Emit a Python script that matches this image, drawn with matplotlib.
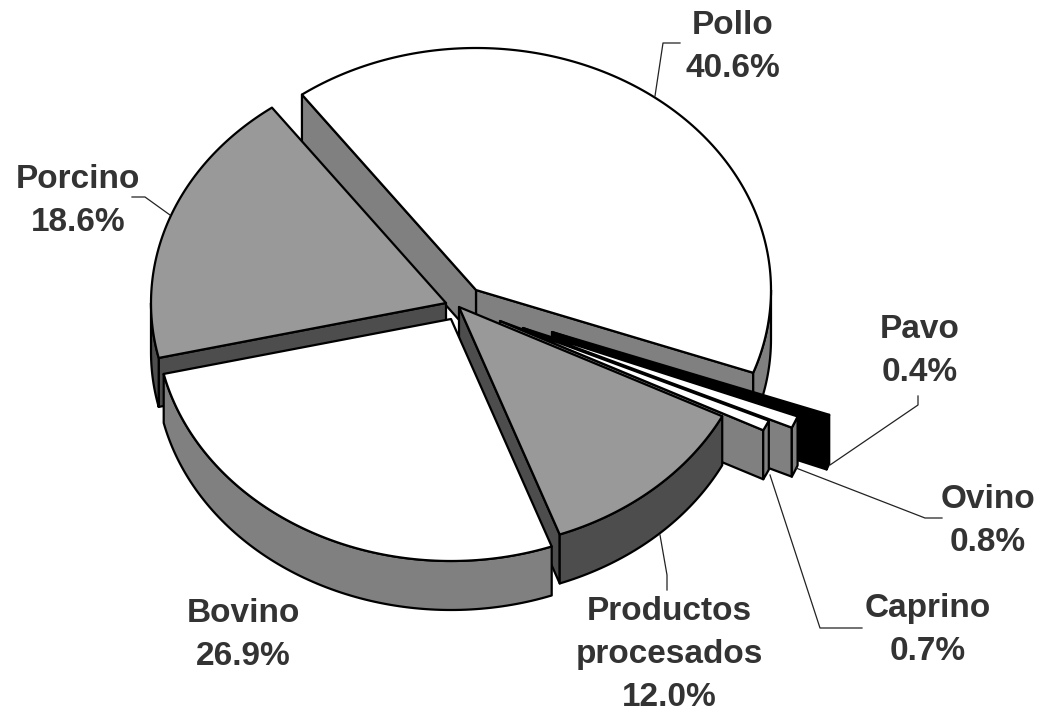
import numpy as np
import matplotlib
matplotlib.use('Agg')
import matplotlib.pyplot as plt
from matplotlib.patches import Polygon

# valores del grafico, en el orden en que van alrededor del pastel
nombres = ['Pollo', 'Porcino', 'Bovino', 'Productos\nprocesados', 'Caprino', 'Ovino', 'Pavo']
valores = [40.6, 18.6, 26.9, 12.0, 0.7, 0.8, 0.4]

# estilo de cada porcion
centros = [(476, 290), (446, 303), (451, 319), (459, 307), (500, 321), (523, 328), (552, 332)]
colores_cara = ['white', '#999999', 'white', '#999999', 'white', 'white', 'black']
colores_lado = ['#808080', '#4d4d4d', '#808080', '#4d4d4d', '#808080', '#808080', 'black']
orden_dibujo = [0, 6, 5, 4, 3, 1, 2]

# posiciones de etiquetas y lineas guia
pos_etiquetas = [(733, 47), (78, 201), (243, 635), (669, 654), (928, 630), (988, 521), (920, 351)]
guias = [
    [(655, 96), (663, 43), (680, 43)],
    [(170, 215), (145, 197), (132, 197)],
    None,
    [(660, 535), (667, 575), (667, 590)],
    [(770, 475), (820, 628), (862, 628)],
    [(796, 468), (925, 518), (942, 518)],
    [(830, 465), (918, 405), (918, 396)],
]

radio_x = 295
radio_y = 242
grosor = 49
inicio = -20.0


def borde(centro, a0, a1):
    t = np.radians(np.linspace(a0, a1, max(int(abs(a1 - a0)) + 2, 2)))
    return np.column_stack([centro[0] + radio_x * np.cos(t), centro[1] - radio_y * np.sin(t)])


def dibujar_lado(eje, puntos, color):
    abajo = puntos[::-1] + np.array([0, grosor])
    eje.add_patch(Polygon(np.vstack([puntos, abajo]), closed=True, facecolor=color,
                          edgecolor='black', linewidth=1.6, joinstyle='round'))


def dibujar_porcion(eje, centro, a0, a1, cara, lado):
    medio = np.radians((a0 + a1) / 2)
    m = np.array([np.cos(medio) * radio_x, -np.sin(medio) * radio_y])
    for a in (a0, a1):
        p = borde(centro, a, a)[0]
        e = p - np.array(centro)
        n = np.array([-e[1], e[0]])
        if n @ m > 0:
            n = -n
        if n[1] > 0:
            dibujar_lado(eje, np.array([centro, p]), lado)
    # pared exterior: solo la mitad de abajo se ve
    for b0, b1 in [(a0, min(a1, 0)), (max(a0, 180), min(a1, 360))]:
        if b1 > b0:
            dibujar_lado(eje, borde(centro, b0, b1), lado)
    puntos = np.vstack([[centro], borde(centro, a0, a1)])
    eje.add_patch(Polygon(puntos, closed=True, facecolor=cara, edgecolor='black',
                          linewidth=1.6, joinstyle='round'))


figura = plt.figure(figsize=(10.49, 7.13), dpi=100)
eje = figura.add_axes([0, 0, 1, 1])
eje.set_xlim(0, 1049)
eje.set_ylim(713, 0)
eje.axis('off')

cortes = inicio + np.concatenate([[0], np.cumsum(valores)]) * 360 / sum(valores)
for i in orden_dibujo:
    dibujar_porcion(eje, centros[i], cortes[i], cortes[i + 1], colores_cara[i], colores_lado[i])

for guia in guias:
    if guia is not None:
        xs, ys = zip(*guia)
        eje.plot(xs, ys, color='#222222', linewidth=0.9)

for nombre, valor, pos in zip(nombres, valores, pos_etiquetas):
    eje.text(pos[0], pos[1], '{}\n{:.1f}%'.format(nombre, valor), ha='center', va='center',
             family='Liberation Sans', fontweight='bold', fontsize=24, color='#333333',
             linespacing=1.5)

figura.savefig('out.png', dpi=100)
